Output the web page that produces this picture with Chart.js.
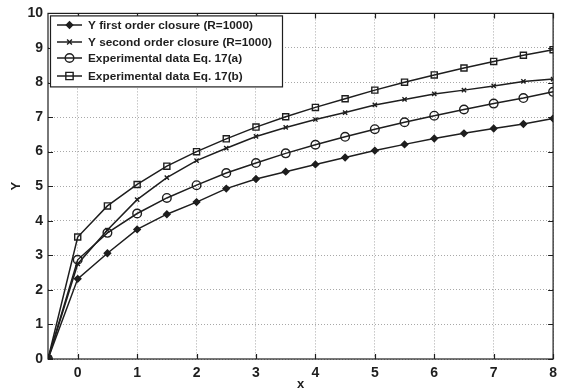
<!DOCTYPE html>
<html>
<head>
<meta charset="utf-8">
<script src="https://cdn.jsdelivr.net/npm/chart.js@4/dist/chart.umd.min.js"></script>
<style>
  html, body { margin: 0; padding: 0; background: #fff; }
  #wrap { width: 563px; height: 392px; }
</style>
</head>
<body>
<div id="wrap"><canvas id="c" width="563" height="392"></canvas></div>
<script>
// x positions shared by all curves
const xs = [-0.5, 0, 0.5, 1, 1.5, 2, 2.5, 3, 3.5, 4, 4.5, 5, 5.5, 6, 6.5, 7, 7.5, 8];

const firstOrder  = [0, 2.32, 3.06, 3.75, 4.19, 4.54, 4.93, 5.21, 5.42, 5.63, 5.83, 6.03, 6.21, 6.38, 6.53, 6.67, 6.80, 6.96];
const secondOrder = [0, 2.75, 3.73, 4.61, 5.25, 5.74, 6.10, 6.44, 6.70, 6.93, 7.13, 7.35, 7.51, 7.67, 7.78, 7.90, 8.03, 8.10];
const expA        = [0, 2.87, 3.65, 4.21, 4.66, 5.03, 5.38, 5.67, 5.95, 6.20, 6.43, 6.65, 6.85, 7.04, 7.22, 7.39, 7.55, 7.73];
const expB        = [0, 3.53, 4.43, 5.05, 5.58, 6.00, 6.37, 6.71, 7.01, 7.28, 7.53, 7.78, 8.01, 8.22, 8.42, 8.61, 8.79, 8.95];

const labels = [
  'Y first order closure (R=1000)',
  'Y second order closure (R=1000)',
  'Experimental data Eq. 17(a)',
  'Experimental data Eq. 17(b)'
];

const xTicks = [0, 1, 2, 3, 4, 5, 6, 7, 8];
const yTicks = [0, 1, 2, 3, 4, 5, 6, 7, 8, 9, 10];

const INK = '#1e1e1e';
const GRID = '#a8a8a8';
const FONT = 'Arial, "Liberation Sans", Helvetica, sans-serif';

function pts(ys) { return xs.map((x, i) => ({ x: x, y: ys[i] })); }

const styles = [
  { pointStyle: 'rectRot', radius: 3.2, fill: INK },
  { pointStyle: 'crossRot', radius: 3, fill: INK },
  { pointStyle: 'circle', radius: 4.3, fill: 'rgba(0,0,0,0)' },
  { pointStyle: 'rect', radius: 4.3, fill: 'rgba(0,0,0,0)' }
];

const series = [firstOrder, secondOrder, expA, expB];

const datasets = series.map((ys, i) => ({
  label: labels[i],
  data: pts(ys),
  showLine: true,
  borderColor: INK,
  borderWidth: 1.5,
  pointStyle: styles[i].pointStyle,
  pointRadius: styles[i].radius,
  pointBorderColor: INK,
  pointBorderWidth: 1.4,
  pointBackgroundColor: styles[i].fill,
  tension: 0
}));

function drawMarker(ctx, style, r, x, y) {
  ctx.beginPath();
  if (style === 'circle') {
    ctx.arc(x, y, r, 0, Math.PI * 2);
    ctx.stroke();
  } else if (style === 'rect') {
    const s = r * 0.85;
    ctx.rect(x - s, y - s, 2 * s, 2 * s);
    ctx.stroke();
  } else if (style === 'rectRot') {
    ctx.moveTo(x, y - r); ctx.lineTo(x + r, y); ctx.lineTo(x, y + r); ctx.lineTo(x - r, y); ctx.closePath();
    ctx.fill(); ctx.stroke();
  } else {
    const d = r * 0.8;
    ctx.moveTo(x - d, y - d); ctx.lineTo(x + d, y + d);
    ctx.moveTo(x + d, y - d); ctx.lineTo(x - d, y + d);
    ctx.stroke();
  }
}

// Box frame, inward ticks and boxed legend in the upper-left corner
const framePlugin = {
  id: 'frame',
  afterDatasetsDraw(chart) {
    const ctx = chart.ctx;
    const a = chart.chartArea;
    const sx = chart.scales.x, sy = chart.scales.y;
    ctx.save();
    ctx.strokeStyle = INK;
    ctx.lineWidth = 1.2;
    ctx.strokeRect(a.left, a.top, a.right - a.left, a.bottom - a.top);
    ctx.beginPath();
    xTicks.forEach(v => {
      const px = Math.round(sx.getPixelForValue(v)) + 0.5;
      ctx.moveTo(px, a.bottom); ctx.lineTo(px, a.bottom - 5);
      ctx.moveTo(px, a.top); ctx.lineTo(px, a.top + 5);
    });
    yTicks.forEach(v => {
      const py = Math.round(sy.getPixelForValue(v)) + 0.5;
      ctx.moveTo(a.left, py); ctx.lineTo(a.left + 5, py);
      ctx.moveTo(a.right, py); ctx.lineTo(a.right - 5, py);
    });
    ctx.stroke();

    // legend
    const bx = a.left + 2.5, by = a.top + 2.5, bw = 232, bh = 71;
    ctx.fillStyle = '#fff';
    ctx.fillRect(bx, by, bw, bh);
    ctx.strokeStyle = INK;
    ctx.lineWidth = 1.2;
    ctx.strokeRect(bx, by, bw, bh);
    ctx.font = 'bold 11.8px ' + FONT;
    ctx.textBaseline = 'middle';
    ctx.textAlign = 'left';
    const rows = [25, 42, 58, 76];
    chart.data.datasets.forEach((ds, i) => {
      const y = rows[i];
      ctx.strokeStyle = INK;
      ctx.lineWidth = 1.5;
      ctx.beginPath();
      ctx.moveTo(57, y); ctx.lineTo(82, y);
      ctx.stroke();
      ctx.fillStyle = INK;
      ctx.lineWidth = ds.pointBorderWidth;
      drawMarker(ctx, ds.pointStyle, ds.pointRadius, 69.5, y);
      ctx.fillStyle = INK;
      ctx.fillText(ds.label, 88, y + 0.5);
    });
    ctx.restore();
  }
};

new Chart(document.getElementById('c'), {
  type: 'scatter',
  data: { datasets: datasets },
  plugins: [framePlugin],
  options: {
    responsive: false,
    animation: false,
    layout: { padding: { top: 10, right: 7, left: 0, bottom: 0 } },
    plugins: {
      legend: { display: false },
      tooltip: { enabled: false }
    },
    scales: {
      x: {
        type: 'linear',
        min: -0.5,
        max: 8,
        afterBuildTicks(scale) { scale.ticks = xTicks.map(v => ({ value: v })); },
        afterFit(scale) { scale.height = 33; },
        grid: { color: GRID, lineWidth: 1, drawTicks: false },
        border: { display: false, dash: [1, 2] },
        ticks: {
          color: INK,
          padding: 6,
          maxRotation: 0,
          font: { family: FONT, size: 14, weight: 'bold' }
        },
        title: {
          display: true,
          text: 'x',
          color: INK,
          padding: { top: -3, bottom: 0 },
          font: { family: FONT, size: 13, weight: 'bold' }
        }
      },
      y: {
        type: 'linear',
        min: 0,
        max: 10,
        afterBuildTicks(scale) { scale.ticks = yTicks.map(v => ({ value: v })); },
        afterFit(scale) { scale.width = 48; },
        grid: { color: GRID, lineWidth: 1, drawTicks: false },
        border: { display: false, dash: [1, 2] },
        ticks: {
          color: INK,
          padding: 5,
          font: { family: FONT, size: 14, weight: 'bold' }
        },
        title: {
          display: true,
          text: 'Y',
          color: INK,
          padding: { top: 9, bottom: 0 },
          font: { family: FONT, size: 13, weight: 'bold' }
        }
      }
    }
  }
});
</script>
</body>
</html>
